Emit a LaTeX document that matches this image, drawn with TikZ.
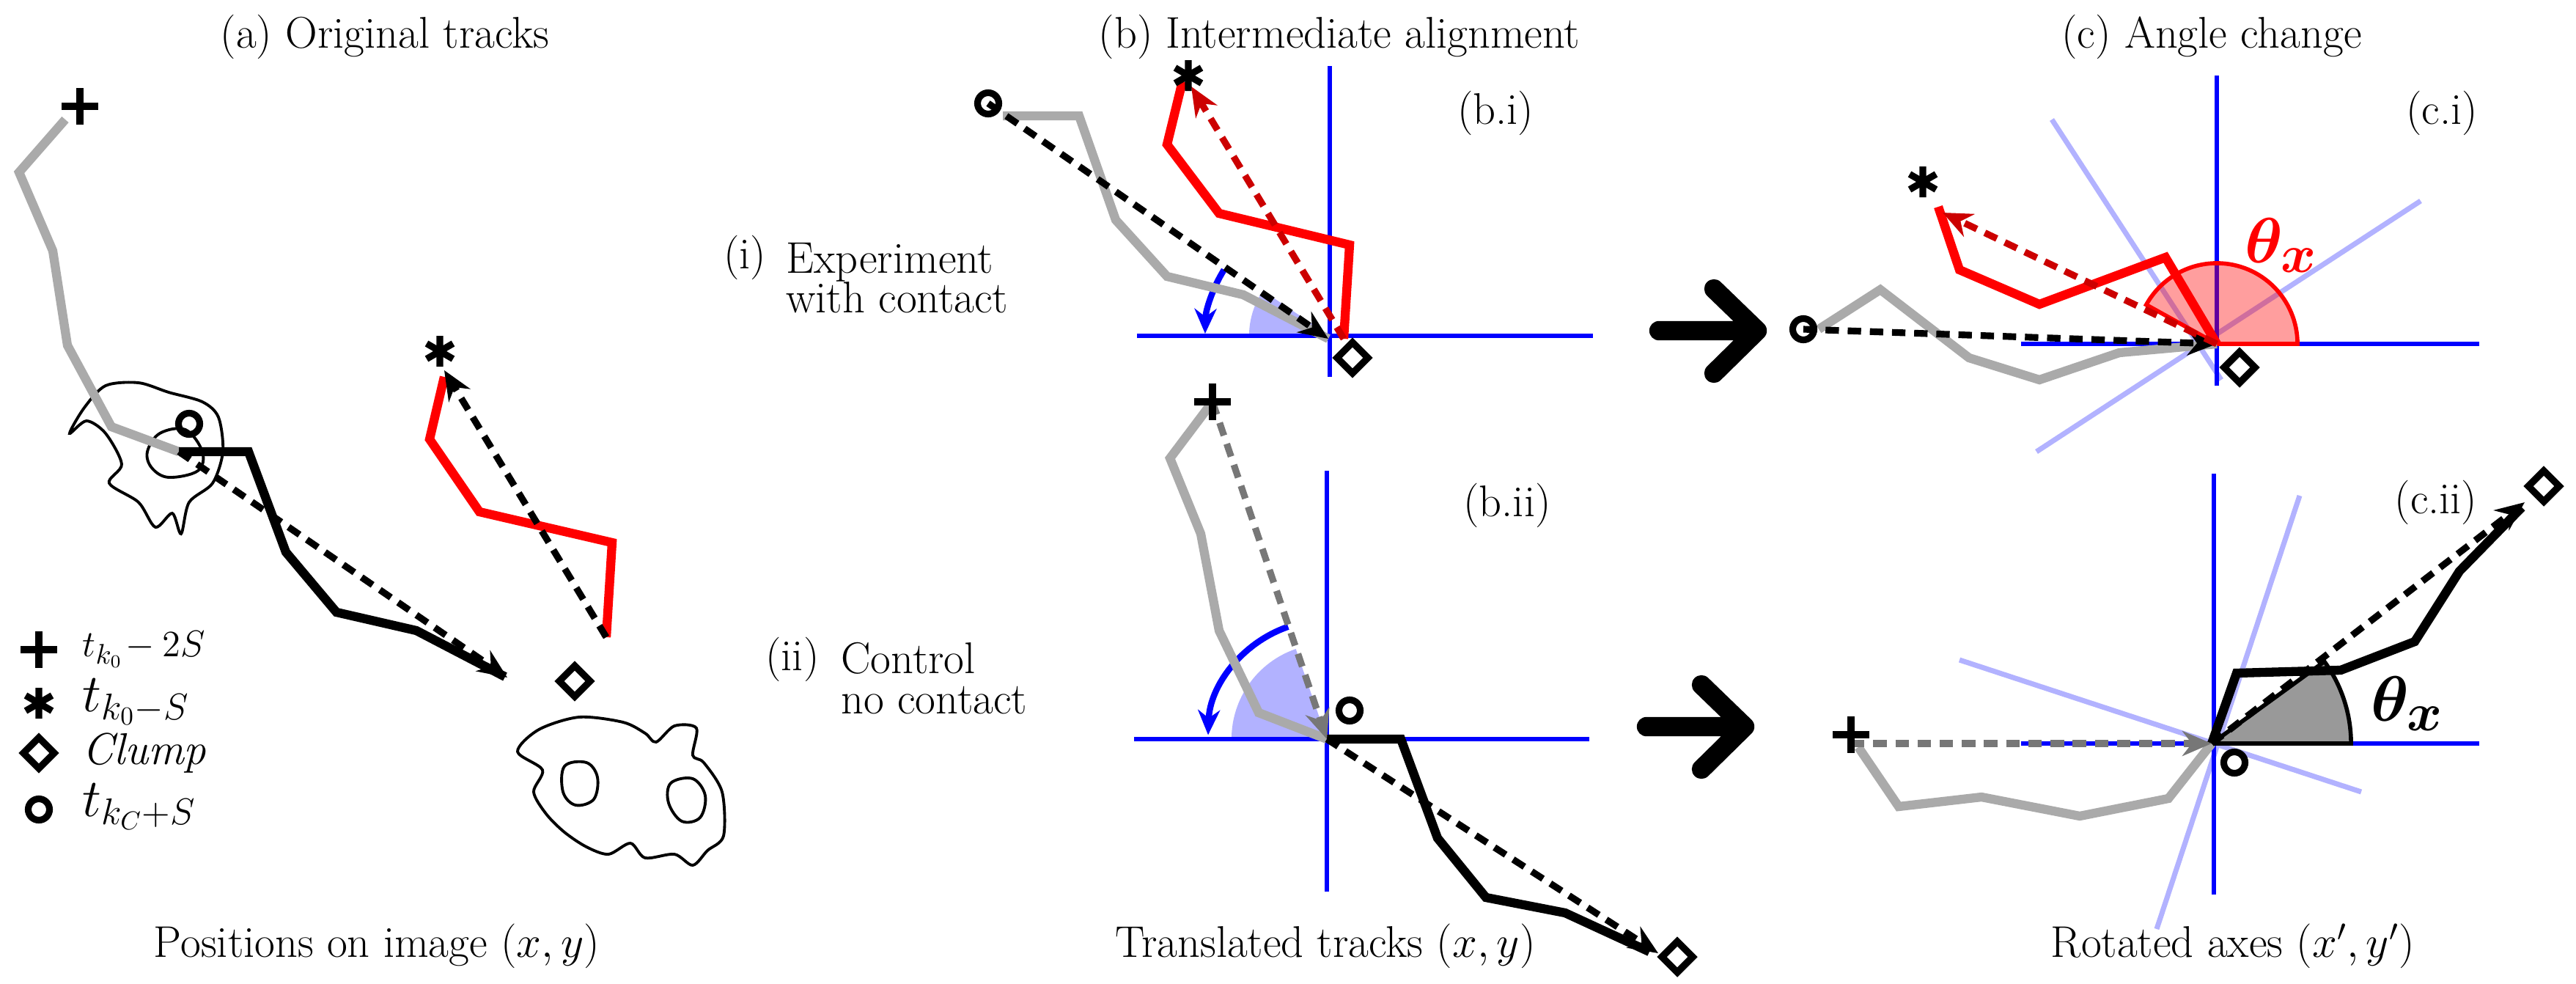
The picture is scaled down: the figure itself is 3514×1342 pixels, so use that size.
\documentclass[tikz,border=0pt]{standalone}
\usepackage{bm}
\usetikzlibrary{arrows.meta}
\definecolor{trk}{HTML}{AAAAAA}
\definecolor{dred}{HTML}{CC0000}
\definecolor{dgray}{HTML}{777777}
\begin{document}
\begin{tikzpicture}[x=0.01cm,y=-0.01cm,
  track/.style={line width=3.5pt},
  gtrack/.style={track,trk},
  btrack/.style={track,black},
  rtrack/.style={track,red},
  darr/.style={line width=2.6pt,dash pattern=on 5.2pt off 3.4pt,-{Stealth[length=0.4cm,width=0.34cm]}},
  axis/.style={blue,line width=1.9pt},
  raxis/.style={blue!30,line width=2pt},
  cell/.style={black,line width=1.1pt},
  lbl/.style={font=\fontsize{17.2}{20}\selectfont},
  two/.style={font=\fontsize{17.2}{15.5}\selectfont,align=left,anchor=west},
  leg/.style={anchor=west,inner sep=0pt},
  mplus/.pic={\draw[line width=2.6pt] (-25,0)--(25,0) (0,-25)--(0,25);},
  mast/.pic={\draw[line width=2.6pt] (0,-21)--(0,21) (-18,-10.5)--(18,10.5) (-18,10.5)--(18,-10.5);},
  mdia/.pic={\draw[line width=2.7pt] (0,-21)--(21,0)--(0,21)--(-21,0)--cycle;},
  mcirc/.pic={\draw[line width=2.6pt] (0,0) circle (0.145cm);}
]
\useasboundingbox (0,0) rectangle (3514,1342);
% ---------------- titles ----------------
\node[lbl] (ta) at (525,50) {(a) Original tracks};
\node[lbl] (tb) at (1827,50) {(b) Intermediate alignment};
\node[lbl] (tc) at (3017,50) {(c) Angle change};
\node[lbl] (ba) at (514,1290) {Positions on image $(x,y)$};
\node[lbl] (bb) at (1808,1290) {Translated tracks $(x,y)$};
\node[lbl] (bc) at (3046,1290) {Rotated axes $(x',y')$};
% ---------------- panel (a) ----------------
\draw[cell] plot[smooth cycle,tension=0.5] coordinates {(95,591) (115,556) (144,526) (189,522) (230,535) (276,548) (298,569) (304,616) (290,659) (258,685) (247,728) (235,700) (212,719) (189,685) (149,659) (166,633) (144,591) (118,574)};
\draw[cell] plot[smooth cycle,tension=0.6] coordinates {(201,616) (218,591) (253,586) (276,616) (270,642) (230,651) (207,638)};
\draw[cell] plot[smooth cycle,tension=0.5] coordinates {(706,1025) (735,995) (790,978) (850,985) (880,1000) (895,1012) (920,990) (950,993) (945,1030) (960,1040) (985,1080) (987,1140) (965,1160) (945,1180) (920,1165) (880,1170) (860,1150) (830,1165) (800,1155) (770,1135) (745,1110) (728,1080) (740,1050)};
\draw[cell] plot[smooth cycle,tension=0.6] coordinates {(770,1045) (800,1040) (815,1060) (810,1090) (785,1098) (768,1080)};
\draw[cell] plot[smooth cycle,tension=0.6] coordinates {(915,1068) (945,1062) (962,1085) (955,1115) (930,1120) (912,1095)};
\coordinate (aS) at (244,616);
\coordinate (aE) at (692,924);
\coordinate (rS) at (827,869);
\coordinate (rE) at (606,505);
\draw[gtrack] (89,163)--(26,235)--(72,342)--(92,471)--(152,582)--(aS);
\draw[btrack] (aS)--(339,616)--(390,753)--(459,835)--(568,860)--(689,923);
\draw[rtrack] (rS)--(835,740)--(654,698)--(586,599)--(606,514);
\draw[darr] (aS)--(aE);
\draw[darr] (rS)--(rE);
\pic at (109,145) {mplus};
\pic at (258,578) {mcirc};
\pic at (600,479) {mast};
\pic at (784,929) {mdia};
% legend
\pic at (53,886) {mplus};
\pic at (53,959) {mast};
\pic at (53,1027) {mdia};
\pic at (53,1104) {mcirc};
\node[lbl,leg] (l1) at (112,886) {\fontsize{15}{17}\selectfont$t_{k_0}\!-2S$};
\node[lbl,leg] (l2) at (112,957) {\fontsize{20}{23}\selectfont$t_{k_0-S}$};
\node[lbl,leg] (l3) at (112,1027) {$\mathit{Clump}$};
\node[lbl,leg] (l4) at (112,1100) {\fontsize{20}{23}\selectfont$t_{k_C+S}$};
% ---------------- panel (b.i) ----------------
\node[lbl,anchor=west] (i1) at (975,351) {(i)};
\node[two] (i2) at (1060,379) {Experiment\\with contact};
\node[lbl,anchor=west] (ii1) at (1032,899) {(ii)};
\node[two] (ii2) at (1135,925) {Control\\no contact};
\node[lbl] (lbi) at (2040,154) {(b.i)};
\node[lbl] (lbii) at (2056,689) {(b.ii)};
\coordinate (O1) at (1814,458);
\fill[blue!30] (O1) -- ++(146:1.1cm) arc[start angle=146,end angle=180,radius=1.1cm] -- cycle;
\draw[axis] (1814,90)--(1814,514) (1551,458)--(2173,458);
\draw[blue,line width=2.4pt,-{Stealth[length=0.34cm,width=0.3cm]}] (O1) ++(148:1.7cm) arc[start angle=148,end angle=179,radius=1.7cm];
\coordinate (c1) at (1348,141);
\coordinate (o1g) at (1812,462);
\coordinate (r1s) at (1833,462);
\coordinate (r1e) at (1625,118);
\draw[gtrack] (1368,158)--(1472,158)--(1522,300)--(1592,377)--(1696,402)--(o1g);
\draw[rtrack] (r1s)--(1841,334)--(1663,291)--(1592,197)--(1613,111);
\draw[darr] (c1)--(o1g);
\draw[darr,dred] (r1s)--(r1e);
\pic at (c1) {mcirc};
\pic at (1621,103) {mast};
\pic at (1845,488) {mdia};
% ---------------- panel (b.ii) ----------------
\coordinate (O2) at (1810,1008);
\fill[blue!30] (O2) -- ++(109:1.3cm) arc[start angle=109,end angle=180,radius=1.3cm] -- cycle;
\draw[axis] (1810,642)--(1810,1216) (1547,1008)--(2168,1008);
\draw[blue,line width=2.4pt,-{Stealth[length=0.34cm,width=0.3cm]}] (O2) ++(109:1.62cm) arc[start angle=109,end angle=178,radius=1.62cm];
\coordinate (p2) at (1654,548);
\coordinate (d2) at (2262,1300);
\draw[gtrack] (p2)--(1596,625)--(1638,728)--(1663,860)--(1717,972)--(O2);
\draw[btrack] (O2)--(1911,1008)--(1961,1143)--(2027,1224)--(2135,1245)--(2250,1298);
\draw[darr,dgray] (p2)--(O2);
\draw[darr] (O2)--(d2);
\pic at (p2) {mplus};
\pic at (1841,969) {mcirc};
\pic at (2288,1305) {mdia};
% big arrows
\draw[line width=7.5pt,line cap=round,line join=round] (2263,451)--(2397,451) (2338,394)--(2397,451)--(2338,509);
\draw[line width=7.5pt,line cap=round,line join=round] (2246,991)--(2380,991) (2321,934)--(2380,991)--(2321,1049);
% ---------------- panel (c.i) ----------------
\node[lbl] (lci) at (3331,154) {(c.i)};
\node[lbl] (lcii) at (3323,685) {(c.ii)};
\coordinate (O3) at (3024,469);
\draw[raxis] (2799,163)--(3030,518) (2778,616)--(3302,274);
\draw[axis] (3024,103)--(3024,526) (2757,469)--(3382,469);
\fill[red,fill opacity=0.38] (O3) -- ++(0:1.1cm) arc[start angle=0,end angle=151,radius=1.1cm] -- cycle;
\draw[red,line width=1.6pt] (O3) -- ++(0:1.1cm) arc[start angle=0,end angle=151,radius=1.1cm] -- cycle;
\coordinate (c3) at (2460,449);
\coordinate (r3e) at (2650,290);
\draw[gtrack] (2481,449)--(2565,395)--(2686,488)--(2782,518)--(2891,481)--(O3);
\draw[rtrack] (O3)--(2954,351)--(2782,415)--(2673,368)--(2644,282);
\draw[darr] (c3)--(O3);
\draw[darr,dred] (O3)--(r3e);
\pic at (c3) {mcirc};
\pic at (2623,248) {mast};
\pic at (3055,501) {mdia};
\node[red,font=\fontsize{31}{36}\selectfont] (th1) at (3112,335) {$\bm{\theta_x}$};
% ---------------- panel (c.ii) ----------------
\coordinate (O4) at (3017,1014);
\draw[raxis] (2673,900)--(3221,1080) (3137,676)--(2942,1267);
\draw[axis] (3020,646)--(3020,1220) (2757,1014)--(3382,1014);
\fill[gray!80] (O4) -- ++(0:1.9cm) arc[start angle=0,end angle=36,radius=1.9cm] -- cycle;
\draw[line width=1.6pt] (O4) -- ++(0:1.9cm) arc[start angle=0,end angle=36,radius=1.9cm] -- cycle;
\coordinate (p4) at (2525,1014);
\coordinate (d4) at (3444,685);
\draw[gtrack] (2535,1019)--(2590,1100)--(2703,1087)--(2837,1113)--(2958,1089)--(O4);
\draw[btrack] (O4)--(3051,918)--(3193,914)--(3294,875)--(3355,779)--(3440,692);
\draw[darr,dgray] (p4)--(O4);
\draw[darr] (O4)--(d4);
\pic at (2525,1002) {mplus};
\pic at (3048,1040) {mcirc};
\pic at (3470,663) {mdia};
\node[font=\fontsize{31}{36}\selectfont] (th2) at (3284,960) {$\bm{\theta_x}$};
\end{tikzpicture}
\end{document}
